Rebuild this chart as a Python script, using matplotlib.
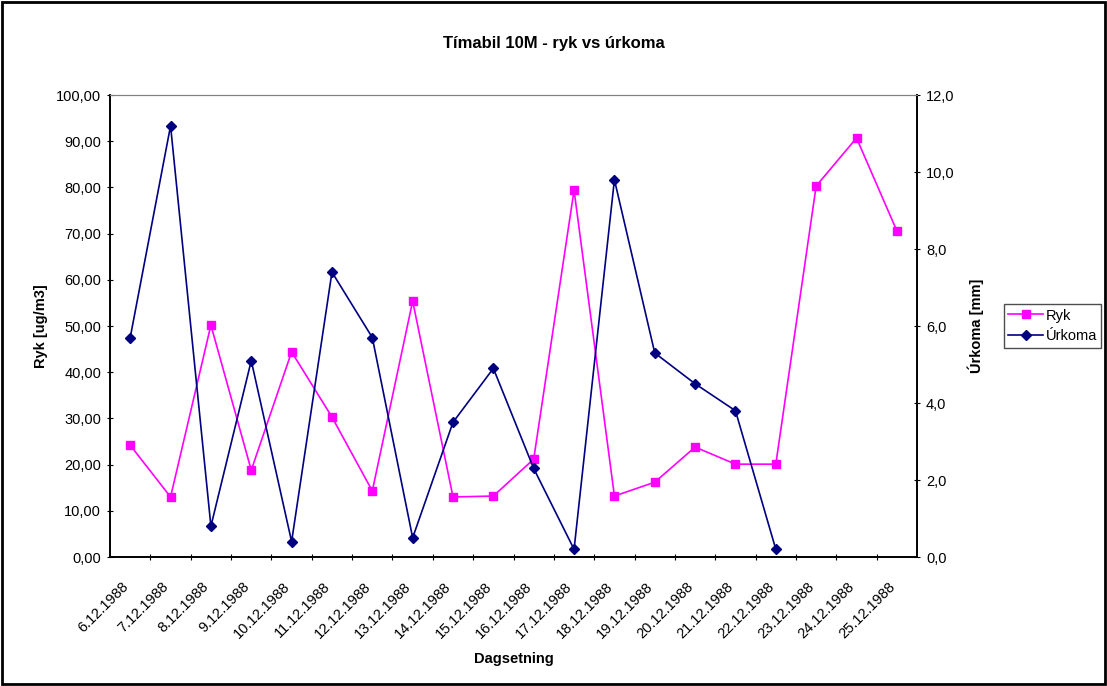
import matplotlib.pyplot as plt
import matplotlib.ticker as mticker
import matplotlib.transforms as mtransforms
from matplotlib.patches import Rectangle

plt.rcParams['font.family'] = ['Liberation Sans', 'DejaVu Sans']

dates = ['6.12.1988', '7.12.1988', '8.12.1988', '9.12.1988', '10.12.1988',
         '11.12.1988', '12.12.1988', '13.12.1988', '14.12.1988', '15.12.1988',
         '16.12.1988', '17.12.1988', '18.12.1988', '19.12.1988', '20.12.1988',
         '21.12.1988', '22.12.1988', '23.12.1988', '24.12.1988', '25.12.1988']
ryk = [24.2, 13.0, 50.2, 18.8, 44.4, 30.3, 14.3, 55.4, 13.0, 13.2,
       21.2, 79.4, 13.2, 16.2, 23.8, 20.1, 20.1, 80.3, 90.7, 70.6]
urkoma = [5.7, 11.2, 0.8, 5.1, 0.4, 7.4, 5.7, 0.5, 3.5, 4.9,
          2.3, 0.2, 9.8, 5.3, 4.5, 3.8, 0.2]

x = list(range(len(dates)))

fig = plt.figure(figsize=(11.07, 6.86), dpi=100)
ax = fig.add_axes([0.0994, 0.188, 0.7290, 0.6735])
ax2 = ax.twinx()

l1, = ax.plot(x, ryk, color='#ff00ff', marker='s', markersize=6, linewidth=1.2, zorder=3)
l2, = ax2.plot(x[:len(urkoma)], urkoma, color='#000080', marker='D', markersize=5.5, linewidth=1.2, zorder=3)

ax.set_xlim(-0.5, len(dates) - 0.5)
ax.set_ylim(0, 100)
ax2.set_ylim(0, 12)
ax.set_yticks(range(0, 101, 10))
ax2.set_yticks(range(0, 13, 2))
ax.yaxis.set_major_formatter(mticker.FuncFormatter(lambda v, p: ('%.2f' % v).replace('.', ',')))
ax2.yaxis.set_major_formatter(mticker.FuncFormatter(lambda v, p: ('%.1f' % v).replace('.', ',')))

ax.set_xticks([i + 0.5 for i in x[:-1]], minor=False)
ax.set_xticklabels([])
ax.set_xticks(x, minor=True)
ax.set_xticklabels(dates, minor=True, rotation=45, ha='right', rotation_mode='anchor', fontsize=10.5)
ax.tick_params(axis='x', which='minor', length=0, pad=16)
ax.tick_params(axis='x', which='major', length=5, direction='inout')
ax.tick_params(axis='y', length=5, direction='inout', labelsize=10.5, pad=4)
ax2.tick_params(axis='y', length=5, direction='inout', labelsize=10.5, pad=4)

# shift date labels a bit to the left, like the original
shift = mtransforms.ScaledTranslation(-0.09, 0, fig.dpi_scale_trans)
for lbl in ax.get_xticklabels(minor=True):
    lbl.set_transform(lbl.get_transform() + shift)

for a in (ax, ax2):
    a.spines['top'].set_color('#808080')
    for s in ('left', 'right', 'bottom'):
        a.spines[s].set_linewidth(1.2)

ax.set_ylabel('Ryk [ug/m3]', fontsize=10.5, fontweight='bold', labelpad=6)
ax2.set_ylabel('Úrkoma [mm]', fontsize=10.5, fontweight='bold', labelpad=9)
ax.set_xlabel('Dagsetning', fontsize=10.5, fontweight='bold', labelpad=8)
fig.text(0.5, 0.937, 'Tímabil 10M - ryk vs úrkoma', ha='center', va='center',
         fontsize=12, fontweight='bold')

leg = fig.legend([l1, l2], ['Ryk', 'Úrkoma'], loc='center left',
                 bbox_to_anchor=(0.907, 0.525), fontsize=10.5, frameon=True,
                 fancybox=False, edgecolor='#202020', handlelength=2.4,
                 borderpad=0.3, labelspacing=0.45, handletextpad=0.15, borderaxespad=0)
leg.get_frame().set_linewidth(1)

fig.patches.append(Rectangle((0.002, 0.003), 0.996, 0.994, transform=fig.transFigure,
                             fill=False, edgecolor='black', linewidth=2))

fig.savefig('out.png', dpi=100)
